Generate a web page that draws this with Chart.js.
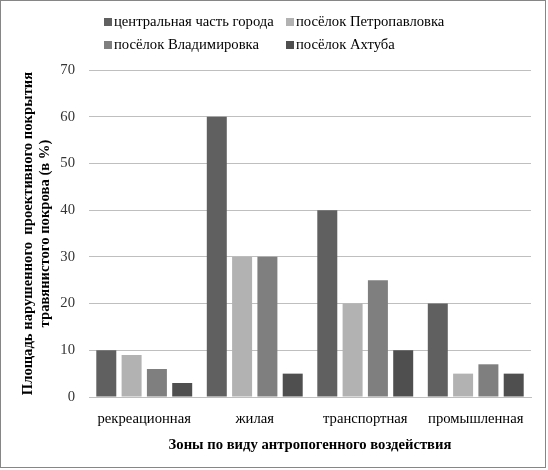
<!DOCTYPE html>
<html>
<head>
<meta charset="utf-8">
<script src="https://cdn.jsdelivr.net/npm/chart.js@4"></script>
<style>
  body { margin: 0; background: #fff; }
  #box { position: absolute; left: 0; top: 0; width: 544px; height: 466px; border: 1px solid #868686; }
  canvas { display: block; }
</style>
</head>
<body>
<div id="box"><canvas id="myChart" width="544" height="466"></canvas></div>
<script>
var zones = ["рекреационная", "жилая", "транспортная", "промышленная"];
var seriesNames = ["центральная часть города", "посёлок Петропавловка", "посёлок Владимировка", "посёлок Ахтуба"];
var centerVals = [10, 60, 40, 20];
var petroVals = [9, 30, 20, 5];
var vladVals = [6, 30, 25, 7];
var akhtubaVals = [3, 5, 10, 5];
var yTicks = [0, 10, 20, 30, 40, 50, 60, 70];

var colors = ["#606060", "#b2b2b2", "#7f7f7f", "#4f4f4f"];
var serifFont = "'Liberation Serif', 'Times New Roman', serif";
var fontSize = 14.67;

// legend in two columns like the original
var gridLegend = {
  id: 'gridLegend',
  afterDraw: function (chart) {
    var ctx = chart.ctx;
    var colX = [103, 285];
    var rowY = [21, 44];
    ctx.save();
    ctx.font = fontSize + "px " + serifFont;
    ctx.textBaseline = "middle";
    chart.data.datasets.forEach(function (ds, i) {
      var x = colX[i % 2];
      var y = rowY[Math.floor(i / 2)];
      ctx.fillStyle = ds.backgroundColor;
      ctx.fillRect(x, y - 4, 8, 8);
      ctx.fillStyle = "#000";
      ctx.fillText(ds.label, x + 10, y);
    });
    ctx.restore();
  }
};

var ctx = document.getElementById('myChart').getContext('2d');
var myChart = new Chart(ctx, {
  type: 'bar',
  data: {
    labels: zones,
    datasets: [
      { label: seriesNames[0], data: centerVals, backgroundColor: colors[0] },
      { label: seriesNames[1], data: petroVals, backgroundColor: colors[1] },
      { label: seriesNames[2], data: vladVals, backgroundColor: colors[2] },
      { label: seriesNames[3], data: akhtubaVals, backgroundColor: colors[3] }
    ]
  },
  options: {
    responsive: false,
    animation: false,
    layout: { padding: { top: 69, right: 14, left: 0, bottom: 0 } },
    datasets: { bar: { categoryPercentage: 0.916, barPercentage: 0.79, borderWidth: 0 } },
    plugins: {
      legend: { display: false },
      tooltip: { enabled: false }
    },
    scales: {
      x: {
        grid: { display: false, drawTicks: false },
        border: { display: true, color: "#bfbfbf" },
        ticks: { padding: 13, color: "#000", font: { family: serifFont, size: fontSize } },
        title: {
          display: true,
          text: "Зоны по виду антропогенного воздействия",
          color: "#000",
          font: { family: serifFont, size: fontSize, weight: 'bold' },
          padding: { top: 4, bottom: 13 }
        },
        afterFit: function (scale) { scale.height = 70; }
      },
      y: {
        min: 0,
        max: 70,
        afterBuildTicks: function (scale) {
          scale.ticks = yTicks.map(function (v) { return { value: v }; });
        },
        grid: { color: "#bfbfbf", drawTicks: false },
        border: { display: false },
        ticks: { padding: 14, color: "#333", font: { family: serifFont, size: fontSize } },
        title: {
          display: true,
          text: ["Площадь нарушенного  проективного покрытия", "травянистого покрова (в %)"],
          color: "#000",
          font: { family: serifFont, size: fontSize, weight: 'bold' },
          padding: { top: 18, bottom: 0 }
        },
        afterFit: function (scale) { scale.width = 88; }
      }
    }
  },
  plugins: [gridLegend]
});
</script>
</body>
</html>
